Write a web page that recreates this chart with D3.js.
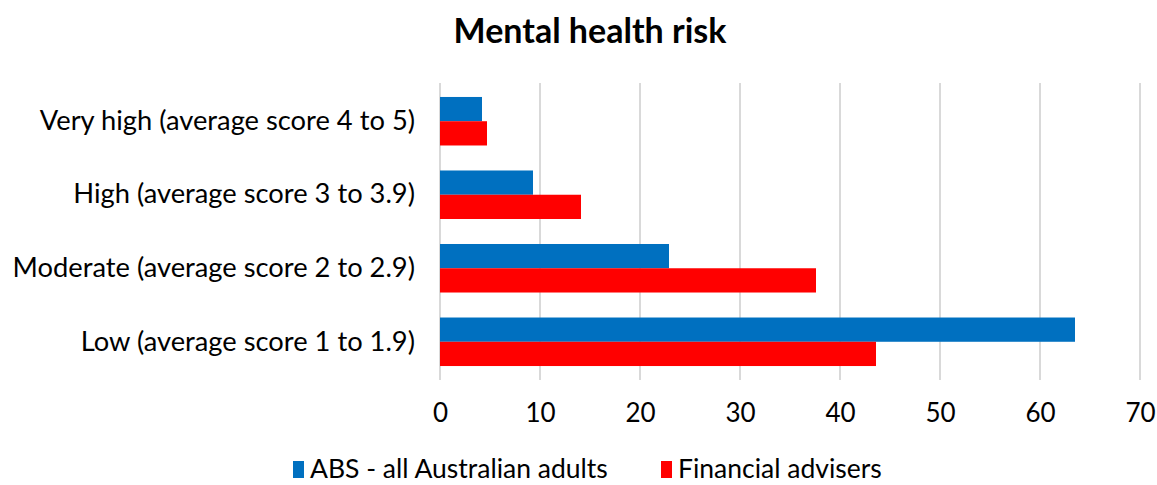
<!DOCTYPE html>
<html><head><meta charset="utf-8">
<script src="https://cdn.jsdelivr.net/npm/d3@7"></script>
<style>body{margin:0;background:#fff}svg{display:block}text{font-family:Lato,"Open Sans",sans-serif;fill:#000}</style>
</head><body><svg id="c" width="1157" height="485"></svg>
<script>
const categories = ["Very high (average score 4 to 5)", "High (average score 3 to 3.9)", "Moderate (average score 2 to 2.9)", "Low (average score 1 to 1.9)"];
const seriesNames = ["ABS - all Australian adults", "Financial advisers"];
const absValues = [4.2, 9.3, 22.9, 63.5];
const advValues = [4.7, 14.1, 37.6, 43.6];
const tickValues = [0, 10, 20, 30, 40, 50, 60, 70];
const colors = ["#0070c0", "#ff0000"];

const svg = d3.select("#c");
const m = {left: 440, right: 1140, top: 83, bottom: 380};
const x = d3.scaleLinear().domain([0, 70]).range([m.left, m.right]);
const y = d3.scaleBand().domain(categories).range([m.top, m.bottom]).paddingInner(0.34).paddingOuter(0.19);
const sub = d3.scaleBand().domain(seriesNames).range([0, y.bandwidth()]);

svg.append("text").attr("x", 590).attr("y", 43).attr("text-anchor", "middle")
  .style("font-size", "34px").style("font-weight", "bold").text("Mental health risk");

// grid
svg.append("g").selectAll("line").data(tickValues).join("line")
  .attr("x1", d => x(d)).attr("x2", d => x(d)).attr("y1", m.top).attr("y2", m.bottom)
  .attr("stroke", "#d9d9d9").attr("stroke-width", 2);

const data = [absValues, advValues];
seriesNames.forEach((s, i) => {
  svg.append("g").selectAll("rect").data(categories).join("rect")
    .attr("x", x(0)).attr("y", c => y(c) + sub(s))
    .attr("width", (c, j) => x(data[i][j]) - x(0)).attr("height", sub.bandwidth())
    .attr("fill", colors[i]);
});

// x axis labels
const xa = svg.append("g").attr("transform", `translate(0,${m.bottom})`)
  .call(d3.axisBottom(x).tickValues(tickValues).tickSize(0).tickPadding(24));
xa.select(".domain").remove();
xa.selectAll("text").style("font-size", "26px").style("font-family", "Lato, sans-serif").attr("fill", "#000");

// y axis labels
const ya = svg.append("g").attr("transform", `translate(${m.left},0)`)
  .call(d3.axisLeft(y).tickSize(0).tickPadding(25));
ya.select(".domain").remove();
ya.selectAll("text").style("font-size", "27.3px").style("font-family", "Lato, sans-serif").attr("fill", "#000");

// legend
const leg = [{x: 293}, {x: 661}];
seriesNames.forEach((s, i) => {
  svg.append("rect").attr("x", leg[i].x).attr("y", 461).attr("width", 11).attr("height", 17).attr("fill", colors[i]);
  svg.append("text").attr("x", leg[i].x + 17).attr("y", 478).style("font-size", "26.5px").text(s);
});
</script></body></html>
